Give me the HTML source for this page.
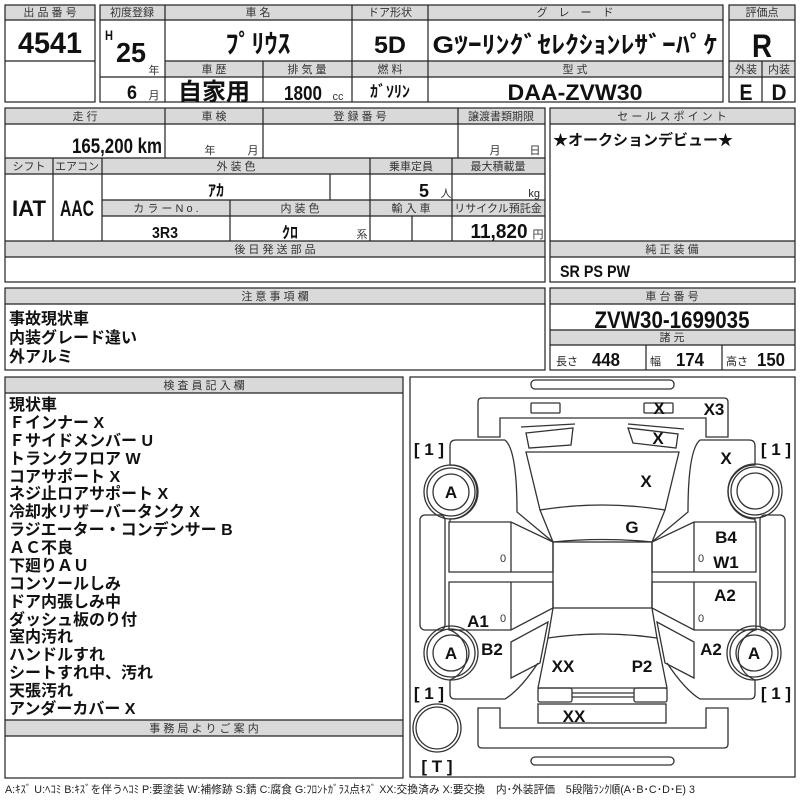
<!DOCTYPE html>
<html><head><meta charset="utf-8"><style>
html,body{margin:0;padding:0;background:#fff;width:800px;height:800px;overflow:hidden}
svg{display:block}
.g{fill:#d9d9d9}
.h{font-family:"Liberation Sans","Noto Sans CJK JP",sans-serif;font-size:11px;fill:#333;text-anchor:middle}
.v{font-family:"Liberation Sans Narrow","Liberation Sans","Noto Sans CJK JP",sans-serif;font-weight:bold;fill:#111;text-anchor:middle}
.j{font-family:"Liberation Sans","Noto Sans CJK JP",sans-serif;font-weight:bold;fill:#111}
.s{font-family:"Liberation Sans","Noto Sans CJK JP",sans-serif;font-size:11px;fill:#222}
.l{font-family:"Liberation Sans",sans-serif;font-weight:bold;font-size:17px;fill:#111;text-anchor:middle}
.car{fill:none;stroke:#333;stroke-width:1.3}
.b{fill:none;stroke:#222;stroke-width:1.2}
</style></head><body>
<svg width="800" height="800" viewBox="0 0 800 800" xmlns="http://www.w3.org/2000/svg">
<rect class="g" x="5" y="5" width="90" height="15"/>
<rect class="b" x="5" y="5" width="90" height="97"/>
<path class="b" d="M5,20H95M5,61H95"/>
<text class="h" x="50" y="16">出 品 番 号</text>
<text class="v" x="50" y="53" font-size="30" textLength="64" lengthAdjust="spacingAndGlyphs">4541</text>
<rect class="g" x="100" y="5" width="623" height="15"/>
<rect class="g" x="165" y="61" width="558" height="16"/>
<rect class="b" x="100" y="5" width="623" height="97"/>
<path class="b" d="M100,20H723M165,61H723M100,77H723M165,5V102M352,5V102M428,5V102M263,61V102"/>
<text class="h" x="132" y="16">初度登録</text>
<text class="h" x="258" y="16">車 名</text>
<text class="h" x="390" y="16">ドア形状</text>
<text class="h" x="575" y="16">グ　レ　ー　ド</text>
<text class="h" x="214" y="73">車 歴</text>
<text class="h" x="307" y="73">排 気 量</text>
<text class="h" x="390" y="73">燃 料</text>
<text class="h" x="575" y="73">型 式</text>
<text class="v" x="109" y="40" font-size="14" textLength="8" lengthAdjust="spacingAndGlyphs">H</text>
<text class="v" x="131" y="62" font-size="28" textLength="30" lengthAdjust="spacingAndGlyphs">25</text>
<text class="h" x="154" y="74">年</text>
<text class="v" x="132" y="99" font-size="19" textLength="10" lengthAdjust="spacingAndGlyphs">6</text>
<text class="h" x="154" y="99">月</text>
<text class="v" x="258" y="53" font-size="26">ﾌﾟﾘｳｽ</text>
<text class="v" x="390" y="53" font-size="24" textLength="32" lengthAdjust="spacingAndGlyphs">5D</text>
<text class="v" x="575" y="53" font-size="24" textLength="285" lengthAdjust="spacingAndGlyphs">Gﾂｰﾘﾝｸﾞｾﾚｸｼｮﾝﾚｻﾞｰﾊﾟｹ</text>
<text class="v" x="214" y="100" font-size="24">自家用</text>
<text class="v" x="303" y="100" font-size="20" textLength="38" lengthAdjust="spacingAndGlyphs">1800</text>
<text class="h" x="338" y="100">cc</text>
<text class="v" x="390" y="97" font-size="16">ｶﾞｿﾘﾝ</text>
<text class="v" x="575" y="100" font-size="22" textLength="135" lengthAdjust="spacingAndGlyphs">DAA-ZVW30</text>
<rect class="g" x="729" y="5" width="66" height="15"/>
<rect class="g" x="729" y="61" width="66" height="16"/>
<rect class="b" x="729" y="5" width="66" height="97"/>
<path class="b" d="M729,20H795M729,61H795M729,77H795M762,61V102"/>
<text class="h" x="762" y="16">評価点</text>
<text class="v" x="762" y="57" font-size="32" textLength="20" lengthAdjust="spacingAndGlyphs">R</text>
<text class="h" x="746" y="73">外装</text>
<text class="h" x="779" y="73">内装</text>
<text class="v" x="746" y="100" font-size="22" textLength="13" lengthAdjust="spacingAndGlyphs">E</text>
<text class="v" x="779" y="100" font-size="22" textLength="15" lengthAdjust="spacingAndGlyphs">D</text>
<rect class="g" x="5" y="108" width="540" height="16"/>
<rect class="g" x="5" y="158" width="540" height="16"/>
<rect class="g" x="102" y="200" width="443" height="16"/>
<rect class="g" x="5" y="241" width="540" height="16"/>
<rect class="b" x="5" y="108" width="540" height="174"/>
<path class="b" d="M5,124H545M5,158H545M5,174H545M102,200H545M102,216H545M5,241H545M5,257H545M165,108V158M263,108V158M458,108V158M53,158V241M102,158V241M370,158V241M452,158V241M330,174V200M230,200V241M412,216V241"/>
<text class="h" x="85" y="120">走 行</text>
<text class="h" x="214" y="120">車 検</text>
<text class="h" x="360" y="120">登 録 番 号</text>
<text class="h" x="501" y="120">譲渡書類期限</text>
<text class="v" x="117" y="153" font-size="21" textLength="90" lengthAdjust="spacingAndGlyphs">165,200 km</text>
<text class="h" x="210" y="154">年</text><text class="h" x="253" y="154">月</text>
<text class="h" x="495" y="154">月</text><text class="h" x="535" y="154">日</text>
<text class="h" x="29" y="170">シフト</text>
<text class="h" x="77" y="170">エアコン</text>
<text class="h" x="236" y="170">外 装 色</text>
<text class="h" x="411" y="170">乗車定員</text>
<text class="h" x="498" y="170">最大積載量</text>
<text class="v" x="29" y="216" font-size="22" textLength="34" lengthAdjust="spacingAndGlyphs">IAT</text>
<text class="v" x="77" y="216" font-size="22" textLength="34" lengthAdjust="spacingAndGlyphs">AAC</text>
<text class="v" x="216" y="196" font-size="16">ｱｶ</text>
<text class="v" x="424" y="197" font-size="18" textLength="10" lengthAdjust="spacingAndGlyphs">5</text>
<text class="h" x="446" y="197" font-size="10">人</text>
<text class="s" x="540" y="197" style="text-anchor:end">kg</text>
<text class="h" x="166" y="212">カ ラ ー N o .</text>
<text class="h" x="300" y="212">内 装 色</text>
<text class="h" x="411" y="212">輸 入 車</text>
<text class="h" x="498" y="212">リサイクル預託金</text>
<text class="v" x="165" y="238" font-size="16" textLength="26" lengthAdjust="spacingAndGlyphs">3R3</text>
<text class="v" x="290" y="238" font-size="16">ｸﾛ</text>
<text class="h" x="362" y="238" font-size="10">系</text>
<text class="v" x="499" y="238" font-size="20" textLength="57" lengthAdjust="spacingAndGlyphs">11,820</text>
<text class="h" x="538" y="238">円</text>
<text class="h" x="275" y="253">後 日 発 送 部 品</text>
<rect class="g" x="550" y="108" width="245" height="16"/>
<rect class="g" x="550" y="241" width="245" height="16"/>
<rect class="b" x="550" y="108" width="245" height="174"/>
<path class="b" d="M550,124H795M550,241H795M550,257H795"/>
<text class="h" x="672" y="120">セ ー ル ス ポ イ ン ト</text>
<text class="j" x="553" y="145" font-size="15">★オークションデビュー★</text>
<text class="h" x="672" y="253">純 正 装 備</text>
<text class="v" x="595" y="277" font-size="17" textLength="70" lengthAdjust="spacingAndGlyphs">SR PS PW</text>
<rect class="g" x="5" y="288" width="540" height="16"/>
<rect class="b" x="5" y="288" width="540" height="82"/>
<path class="b" d="M5,304H545"/>
<text class="h" x="275" y="300">注 意 事 項 欄</text>
<text class="j" x="9" y="324" font-size="16">事故現状車</text>
<text class="j" x="9" y="343" font-size="16">内装グレード違い</text>
<text class="j" x="9" y="362" font-size="16">外アルミ</text>
<rect class="g" x="550" y="288" width="245" height="16"/>
<rect class="g" x="550" y="330" width="245" height="15"/>
<rect class="b" x="550" y="288" width="245" height="82"/>
<path class="b" d="M550,304H795M550,330H795M550,345H795M646,345V370M722,345V370"/>
<text class="h" x="672" y="300">車 台 番 号</text>
<text class="v" x="672" y="328" font-size="24" textLength="155" lengthAdjust="spacingAndGlyphs">ZVW30-1699035</text>
<text class="h" x="672" y="341">諸 元</text>
<text class="s" x="556" y="365" font-size="10">長さ</text>
<text class="v" x="606" y="366" font-size="18" textLength="28" lengthAdjust="spacingAndGlyphs">448</text>
<text class="s" x="650" y="365" font-size="10">幅</text>
<text class="v" x="690" y="366" font-size="18" textLength="28" lengthAdjust="spacingAndGlyphs">174</text>
<text class="s" x="726" y="365" font-size="10">高さ</text>
<text class="v" x="771" y="366" font-size="18" textLength="28" lengthAdjust="spacingAndGlyphs">150</text>
<rect class="g" x="5" y="377" width="398" height="16"/>
<rect class="g" x="5" y="720" width="398" height="16"/>
<rect class="b" x="5" y="377" width="398" height="401"/>
<path class="b" d="M5,393H403M5,720H403M5,736H403"/>
<text class="h" x="204" y="389">検 査 員 記 入 欄</text>
<text class="h" x="204" y="732">事 務 局 よ り ご 案 内</text>
<g class="j" font-size="16">
<text x="9" y="410">現状車</text>
<text x="9" y="428">Ｆインナー X</text>
<text x="9" y="446">Ｆサイドメンバー U</text>
<text x="9" y="464">トランクフロア W</text>
<text x="9" y="482">コアサポート X</text>
<text x="9" y="499">ネジ止ロアサポート X</text>
<text x="9" y="517">冷却水リザーバータンク X</text>
<text x="9" y="535">ラジエーター・コンデンサー B</text>
<text x="9" y="553">ＡＣ不良</text>
<text x="9" y="571">下廻りＡＵ</text>
<text x="9" y="589">コンソールしみ</text>
<text x="9" y="607">ドア内張しみ中</text>
<text x="9" y="625">ダッシュ板のり付</text>
<text x="9" y="642">室内汚れ</text>
<text x="9" y="660">ハンドルすれ</text>
<text x="9" y="678">シートすれ中、汚れ</text>
<text x="9" y="696">天張汚れ</text>
<text x="9" y="714">アンダーカバー X</text>
</g>
<rect class="b" x="410" y="377" width="385" height="400"/>
<g class="car">
<rect x="531" y="380" width="143" height="9" rx="4"/>
<path d="M478,437 L478,402 Q478,398 482,398 L724,398 Q728,398 728,402 L728,437 L706,437 L706,418 L500,418 L500,437 Z"/>
<rect x="531" y="403" width="29" height="10" rx="1"/>
<rect x="644" y="403" width="29" height="10" rx="1"/>
<path d="M521,427 L575,424 M628,424 L684,429"/>
<path d="M526,433 L573,428 L571,445 L529,448 Z"/>
<path d="M628,428 L678,434 L676,448 L633,443 Z"/>
<path d="M526,452 L679,452 L665,510 Q602,500 540,510 Z"/>
<path d="M540,510 L553,542 Q602,537 652,542 L665,510"/>
<rect x="553" y="542" width="99" height="66"/>
<path d="M553,608 L548,638 Q602,630 657,638 L652,608"/>
<path d="M548,638 L538,688 L667,688 L657,638"/>
<rect x="538" y="688" width="34" height="14" rx="2"/>
<rect x="634" y="688" width="33" height="14" rx="2"/>
<path d="M572,693 H634 M572,697 H634"/>
<rect x="538" y="704" width="128" height="19"/>
<path d="M478,708 L500,708 L500,728 L706,728 L706,708 L728,708 L728,744 Q728,748 724,748 L482,748 Q478,748 478,744 Z"/>
<rect x="531" y="757" width="143" height="8" rx="4"/>
<g>
<path d="M505,440 L456,440 Q450,440 450,446 L450,465 A27,27 0 0 1 450,519 L450,522"/>
<path d="M505,440 Q517,450 517,512 L553,542"/>
<path d="M449,522 L511,522 L553,542 L553,572 L449,572 Z M511,522 V572"/>
<path d="M449,582 L553,582 L553,608 L511,630 L449,630 Z M511,582 V630"/>
<path d="M450,630 A27,27 0 0 1 450,680 L450,694 Q450,699 455,699 L505,699 Q520,690 538,663"/>
<path d="M511,642 L548,622 L540,663 L511,678 Z"/>
<rect x="420" y="515" width="25" height="115" rx="5"/>
</g>
<g transform="translate(1205,0) scale(-1,1)">
<path d="M505,440 L456,440 Q450,440 450,446 L450,465 A27,27 0 0 1 450,519 L450,522"/>
<path d="M505,440 Q517,450 517,512 L553,542"/>
<path d="M449,522 L511,522 L553,542 L553,572 L449,572 Z M511,522 V572"/>
<path d="M449,582 L553,582 L553,608 L511,630 L449,630 Z M511,582 V630"/>
<path d="M450,630 A27,27 0 0 1 450,680 L450,694 Q450,699 455,699 L505,699 Q520,690 538,663"/>
<path d="M511,642 L548,622 L540,663 L511,678 Z"/>
<rect x="420" y="515" width="25" height="115" rx="5"/>
</g>
<circle cx="451" cy="492" r="27"/><circle cx="451" cy="492" r="24"/><circle cx="451" cy="492" r="18"/>
<circle cx="755" cy="491" r="27"/><circle cx="755" cy="491" r="24"/><circle cx="755" cy="491" r="18"/>
<circle cx="451" cy="653" r="27"/><circle cx="451" cy="653" r="24"/><circle cx="451" cy="653" r="18"/>
<circle cx="754" cy="653" r="27"/><circle cx="754" cy="653" r="24"/><circle cx="754" cy="653" r="18"/>
<circle cx="437" cy="728" r="24"/><circle cx="437" cy="728" r="21"/>
</g>
<g class="l">
<text x="451" y="498">A</text><text x="451" y="659">A</text><text x="754" y="659">A</text>
<text x="429" y="455">[ 1 ]</text><text x="776" y="455">[ 1 ]</text>
<text x="429" y="699">[ 1 ]</text><text x="776" y="699">[ 1 ]</text>
<text x="437" y="772">[ T ]</text>
<text x="659" y="414">X</text><text x="714" y="415">X3</text>
<text x="658" y="444">X</text><text x="726" y="464">X</text>
<text x="646" y="487">X</text><text x="632" y="533">G</text>
<text x="726" y="543">B4</text><text x="726" y="568">W1</text>
<text x="725" y="601">A2</text><text x="478" y="627">A1</text>
<text x="492" y="655">B2</text><text x="711" y="655">A2</text>
<text x="563" y="672">XX</text><text x="642" y="672">P2</text>
<text x="574" y="722">XX</text>
</g>
<g class="h" font-size="12"><text x="503" y="562">0</text><text x="503" y="622">0</text><text x="701" y="562">0</text><text x="701" y="622">0</text></g>
<text class="s" x="5" y="793" font-size="9.5" textLength="690" lengthAdjust="spacingAndGlyphs">A:ｷｽﾞ U:ﾍｺﾐ B:ｷｽﾞを伴うﾍｺﾐ P:要塗装 W:補修跡 S:錆 C:腐食 G:ﾌﾛﾝﾄｶﾞﾗｽ点ｷｽﾞ XX:交換済み X:要交換　内･外装評価　5段階ﾗﾝｸ順(A･B･C･D･E) 3</text>
</svg>
</body></html>
